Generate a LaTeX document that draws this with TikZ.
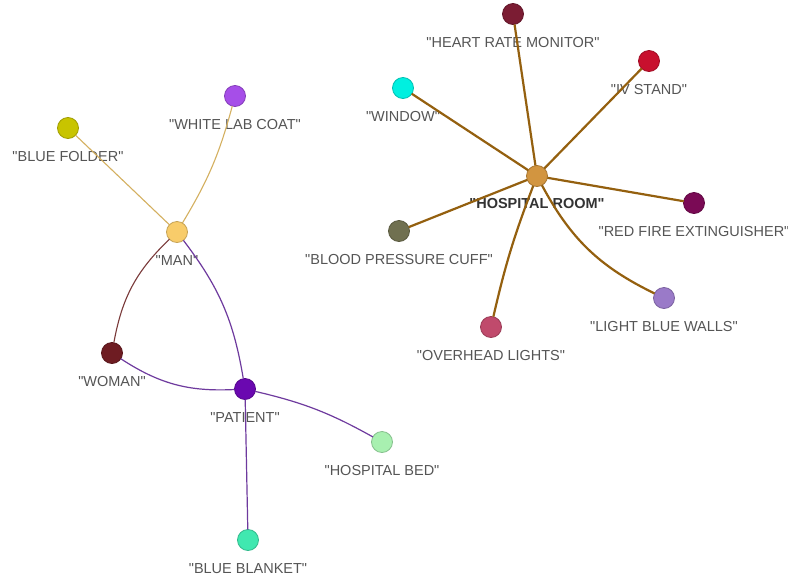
\documentclass[tikz,border=0pt]{standalone}
\usepackage{fontspec}
\setmainfont{Liberation Sans}[Ligatures=TeXOff]
\usetikzlibrary{backgrounds}
\definecolor{lblgray}{HTML}{555555}
\definecolor{hrtxt}{HTML}{333333}
\definecolor{roomedge}{HTML}{94600F}
\definecolor{tanedge}{HTML}{D4B060}
\definecolor{womanedge}{HTML}{7A3A3A}
\definecolor{purpedge}{HTML}{6E3A9E}
\definecolor{cHeart}{HTML}{7B1C33}
\definecolor{cIV}{HTML}{C8102E}
\definecolor{cWindow}{HTML}{00F0E0}
\definecolor{cRoom}{HTML}{D29540}
\definecolor{cFire}{HTML}{7A0A55}
\definecolor{cCuff}{HTML}{707050}
\definecolor{cWalls}{HTML}{9A7AC8}
\definecolor{cLights}{HTML}{C04A6C}
\definecolor{cCoat}{HTML}{A64EE8}
\definecolor{cFolder}{HTML}{C8C400}
\definecolor{cMan}{HTML}{F8CC6A}
\definecolor{cWoman}{HTML}{6E1C22}
\definecolor{cPatient}{HTML}{6A08B0}
\definecolor{cBed}{HTML}{A8F0B0}
\definecolor{cBlanket}{HTML}{40E8B0}
\tikzset{
  vtx/.style={circle, minimum size=21pt, inner sep=0pt, outer sep=0pt, fill=#1, draw=#1!80!black, line width=0.8pt},
  lbl/.style={text=lblgray, font=\fontsize{14.5}{16}\selectfont, inner sep=0pt, text height=10.4pt, text depth=0pt, label distance=12.5pt},
  blbl/.style={text=hrtxt, font=\fontsize{14.5}{16}\selectfont\bfseries, inner sep=0pt, text height=10.4pt, text depth=0pt, label distance=12.5pt},
  roomlink/.style={draw=roomedge, line width=2.2pt},
  tanlink/.style={draw=tanedge, line width=1.1pt},
  womanlink/.style={draw=womanedge, line width=1.1pt},
  purplink/.style={draw=purpedge, line width=1.2pt}
}
\begin{document}
\begin{tikzpicture}[x=1pt,y=-1pt]
\useasboundingbox (0,0) rectangle (788,579);
\begin{scope}[on background layer]
\fill[white] (0,0) rectangle (788,579);
\end{scope}
% hospital room cluster
\node[vtx=cHeart, label={[lbl]below:"HEART RATE MONITOR"}] (heart) at (513,14) {};
\node[vtx=cIV, label={[lbl]below:"IV STAND"}] (iv) at (649,61) {};
\node[vtx=cWindow, label={[lbl]below:"WINDOW"}] (window) at (403,88) {};
\node[vtx=cRoom, label={[blbl,label distance=11pt]below:"HOSPITAL ROOM"}] (room) at (537,176) {};
\node[vtx=cFire, label={[lbl]below:"RED FIRE EXTINGUISHER"}] (fire) at (694,203) {};
\node[vtx=cCuff, label={[lbl]below:"BLOOD PRESSURE CUFF"}] (cuff) at (399,231) {};
\node[vtx=cWalls, label={[lbl]below:"LIGHT BLUE WALLS"}] (walls) at (664,298) {};
\node[vtx=cLights, label={[lbl]below:"OVERHEAD LIGHTS"}] (lights) at (491,327) {};
% people cluster
\node[vtx=cCoat, label={[lbl]below:"WHITE LAB COAT"}] (coat) at (235,96) {};
\node[vtx=cFolder, label={[lbl]below:"BLUE FOLDER"}] (folder) at (68,128) {};
\node[vtx=cMan, label={[lbl]below:"MAN"}] (man) at (177,232) {};
\node[vtx=cWoman, label={[lbl]below:"WOMAN"}] (woman) at (112,353) {};
\node[vtx=cPatient, label={[lbl]below:"PATIENT"}] (patient) at (245,389) {};
\node[vtx=cBed, label={[lbl]below:"HOSPITAL BED"}] (bed) at (382,442) {};
\node[vtx=cBlanket, label={[lbl]below:"BLUE BLANKET"}] (blanket) at (248,540) {};
% connectors (over labels, ending at circle borders)
\draw[roomlink] (room) -- (heart);
\draw[roomlink] (room) -- (iv);
\draw[roomlink] (room) -- (window);
\draw[roomlink] (room) -- (fire);
\draw[roomlink] (room) -- (cuff);
\draw[roomlink] (room) to[bend right=18] (walls);
\draw[roomlink] (room) to[bend right=4] (lights);
\draw[tanlink] (man) -- (folder);
\draw[tanlink] (man) to[bend right=8] (coat);
\draw[womanlink] (man) to[bend right=18] (woman);
\draw[purplink] (man) to[bend left=14] (patient);
\draw[purplink] (woman) to[bend right=18] (patient);
\draw[purplink] (patient) to[bend left=8] (bed);
\draw[purplink] (patient) -- (blanket);
\end{tikzpicture}
\end{document}
